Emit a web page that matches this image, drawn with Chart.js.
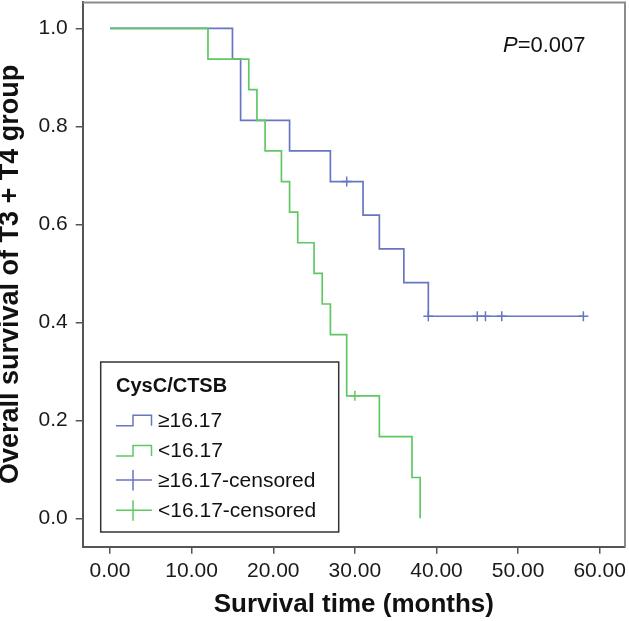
<!DOCTYPE html>
<html>
<head>
<meta charset="utf-8">
<script src="https://cdn.jsdelivr.net/npm/chart.js@4.4.1/dist/chart.umd.min.js"></script>
<style>
  body { margin: 0; background: #fff; }
  #wrap { width: 629px; height: 621px; }
</style>
</head>
<body>
<div id="wrap"><canvas id="kmchart"></canvas></div>
<script>
// survival steps, CysC/CTSB >= 16.17
const highTimes = [0, 15, 16, 22, 27, 31, 33, 36, 39, 58];
const highSurv = [1, 0.9375, 0.8125, 0.75, 0.6875, 0.6188, 0.55, 0.4813, 0.4125, 0.4125];
const highCensTimes = [29, 39, 45, 46, 48, 58];
const highCensSurv = [0.6875, 0.4125, 0.4125, 0.4125, 0.4125, 0.4125];

// survival steps, CysC/CTSB < 16.17
const lowTimes = [0, 12, 17, 18, 19, 21, 22, 23, 25, 26, 27, 29, 33, 37, 38];
const lowSurv = [1, 0.9375, 0.875, 0.8125, 0.75, 0.6875, 0.625, 0.5625, 0.5, 0.4375, 0.375, 0.25, 0.1667, 0.0833, 0];
const lowCensTimes = [30];
const lowCensSurv = [0.25];

const xTicks = [0, 10, 20, 30, 40, 50, 60];
const yTicks = [0, 0.2, 0.4, 0.6, 0.8, 1.0];
const legendTitle = "CysC/CTSB";
const legendLabels = ["≥16.17", "<16.17", "≥16.17-censored", "<16.17-censored"];
const pText = "=0.007";

const blue = "#6676c2";
const green = "#5fc862";
const FONT = "'Liberation Sans', Arial, sans-serif";

const pts = (xs, ys) => xs.map((x, i) => ({ x: x, y: ys[i] }));

// frame, p value and legend box
const kmDecor = {
  id: "kmDecor",
  afterDraw(chart) {
    const { ctx, chartArea: a } = chart;
    ctx.save();
    ctx.strokeStyle = "#8c8c8c";
    ctx.lineWidth = 2;
    ctx.beginPath();
    ctx.moveTo(a.left, a.top + 0.5);
    ctx.lineTo(a.right, a.top + 0.5);
    ctx.lineTo(a.right, a.bottom);
    ctx.stroke();

    ctx.fillStyle = "#111";
    ctx.textBaseline = "alphabetic";
    ctx.textAlign = "left";
    ctx.font = "italic 22px " + FONT;
    ctx.fillText("P", 503, 52);
    const pw = ctx.measureText("P").width;
    ctx.font = "22px " + FONT;
    ctx.fillText(pText, 503 + pw, 52);

    // legend
    const lx = a.left + 18, ly = 362, lw = 238, lh = 170;
    ctx.fillStyle = "#fff";
    ctx.fillRect(lx, ly, lw, lh);
    ctx.strokeStyle = "#333";
    ctx.lineWidth = 1.5;
    ctx.strokeRect(lx, ly, lw, lh);
    ctx.fillStyle = "#111";
    ctx.font = "bold 20px " + FONT;
    ctx.fillText(legendTitle, 116, 392);
    const base = [426.7, 456.9, 487.1, 517.3];
    const cols = [blue, green, blue, green];
    ctx.font = "21px " + FONT;
    legendLabels.forEach((lab, i) => {
      const b = base[i];
      ctx.strokeStyle = cols[i];
      ctx.lineWidth = 1.5;
      ctx.beginPath();
      if (i < 2) {
        ctx.moveTo(116, b - 1);
        ctx.lineTo(133, b - 1);
        ctx.lineTo(133, b - 11.5);
        ctx.lineTo(151.5, b - 11.5);
        ctx.lineTo(151.5, b - 1);
      } else {
        ctx.moveTo(116, b - 7);
        ctx.lineTo(152, b - 7);
        ctx.moveTo(133, b - 17);
        ctx.lineTo(133, b + 3.5);
      }
      ctx.stroke();
      ctx.fillStyle = "#111";
      ctx.fillText(lab, 158, b);
    });
    ctx.restore();
  }
};

new Chart(document.getElementById("kmchart"), {
  type: "line",
  data: {
    datasets: [
      {
        label: legendLabels[0],
        data: pts(highTimes, highSurv),
        stepped: "before",
        borderColor: blue,
        borderWidth: 1.7,
        pointRadius: 0,
        fill: false,
        order: 1,
      },
      {
        label: legendLabels[1],
        data: pts(lowTimes, lowSurv),
        stepped: "before",
        borderColor: green,
        borderWidth: 1.7,
        pointRadius: 0,
        fill: false,
        order: 0,
      },
      {
        label: legendLabels[2],
        data: pts(highCensTimes, highCensSurv),
        showLine: false,
        pointStyle: "cross",
        pointRadius: 5,
        pointBorderWidth: 1.5,
        borderColor: blue,
        order: 0,
      },
      {
        label: legendLabels[3],
        data: pts(lowCensTimes, lowCensSurv),
        showLine: false,
        pointStyle: "cross",
        pointRadius: 5,
        pointBorderWidth: 1.5,
        borderColor: green,
        order: 0,
      },
    ],
  },
  options: {
    responsive: true,
    maintainAspectRatio: false,
    animation: false,
    events: [],
    layout: { autoPadding: false, padding: { top: 2, right: 4, left: 0, bottom: 0 } },
    plugins: {
      legend: { display: false },
      tooltip: { enabled: false },
    },
    scales: {
      x: {
        type: "linear",
        min: -3.35,
        max: 63.1,
        afterBuildTicks: (s) => { s.ticks = xTicks.map((v) => ({ value: v })); },
        afterFit: (s) => { s.height = 74.3; s.paddingLeft = 0; s.paddingRight = 0; },
        ticks: {
          callback: (v) => Number(v).toFixed(2),
          font: { family: FONT, size: 21 },
          color: "#1a1a1a",
          padding: 5,
          maxRotation: 0,
        },
        grid: { drawOnChartArea: false, tickLength: 7, color: "#555", lineWidth: 1.5 },
        border: { color: "#555", width: 2 },
        title: {
          display: true,
          text: "Survival time (months)",
          font: { family: FONT, size: 26, weight: "bold" },
          color: "#111",
          padding: { top: 0, bottom: 1 },
        },
      },
      y: {
        min: -0.058,
        max: 1.054,
        afterBuildTicks: (s) => { s.ticks = yTicks.map((v) => ({ value: v })); },
        afterFit: (s) => { s.width = 82.7; s.paddingTop = 0; s.paddingBottom = 0; },
        ticks: {
          callback: (v) => Number(v).toFixed(1),
          font: { family: FONT, size: 21 },
          color: "#1a1a1a",
          padding: 8,
        },
        grid: { drawOnChartArea: false, tickLength: 7, color: "#555", lineWidth: 1.5 },
        border: { color: "#555", width: 2 },
        title: {
          display: true,
          text: "Overall survival of T3 + T4 group",
          font: { family: FONT, size: 27, weight: "bold", lineHeight: 0.75 },
          color: "#111",
          padding: 0,
        },
      },
    },
  },
  plugins: [kmDecor],
});
</script>
</body>
</html>
